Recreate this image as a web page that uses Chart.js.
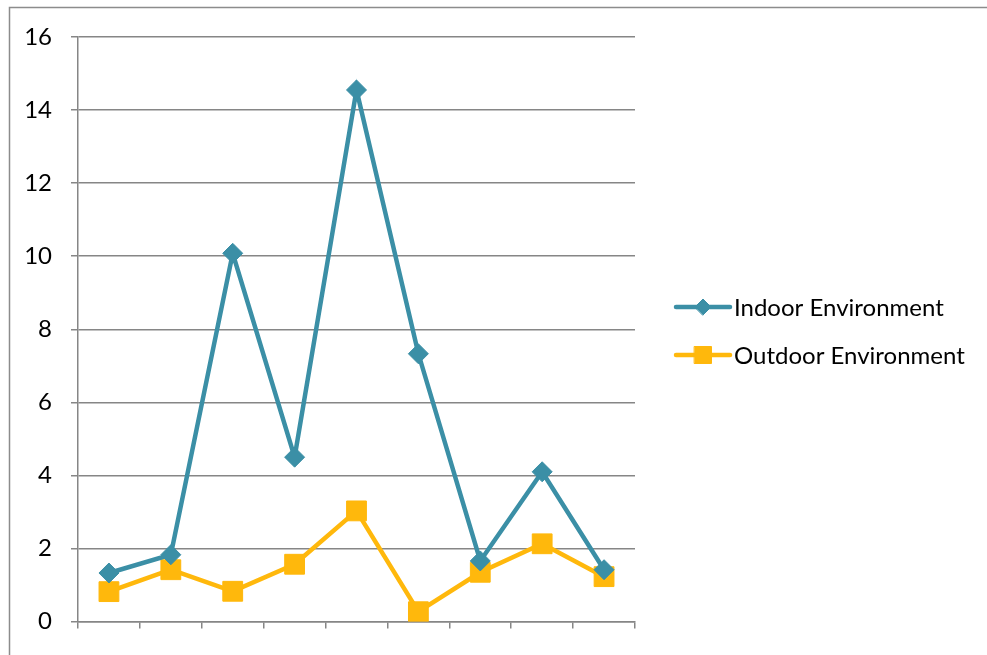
<!DOCTYPE html>
<html>
<head>
<meta charset="utf-8">
<script src="https://cdn.jsdelivr.net/npm/chart.js@4.4.1/dist/chart.umd.min.js"></script>
<style>
  html, body { margin: 0; padding: 0; background: #fff; }
  #wrap { width: 987px; height: 655px; position: relative; }
</style>
</head>
<body>
<div id="wrap"><canvas id="chart"></canvas></div>
<script>
// nine samples, no category names shown on the axis
const categories = ["", "", "", "", "", "", "", "", ""];
const indoor = [1.33, 1.83, 10.08, 4.5, 14.55, 7.33, 1.66, 4.1, 1.42];
const outdoor = [0.82, 1.42, 0.83, 1.57, 3.03, 0.27, 1.35, 2.13, 1.23];
const yTicks = [0, 2, 4, 6, 8, 10, 12, 14, 16];

const TEAL = "#3b8fa6";
const GOLD = "#ffb80c";
const GRID = "#868686";
const FONT = "Lato, 'Open Sans', sans-serif";

// outer frame of the chart object
const framePlugin = {
  id: "frame",
  beforeDraw(chart) {
    const ctx = chart.ctx;
    ctx.save();
    ctx.strokeStyle = "#8c8c8c";
    ctx.lineWidth = 1.5;
    ctx.beginPath();
    ctx.moveTo(9.5, 700);
    ctx.lineTo(9.5, 7.5);
    ctx.lineTo(1000, 7.5);
    ctx.stroke();
    ctx.restore();
  }
};

// right-hand legend: line segment with its marker, then the name
const legendMarker = { rectRot: 8, rect: 12 };
const sideLegend = {
  id: "sideLegend",
  afterDraw(chart) {
    const ctx = chart.ctx;
    const x0 = 676, x1 = 730, ys = [307, 355];
    chart.data.datasets.forEach((ds, i) => {
      const y = ys[i];
      ctx.save();
      ctx.strokeStyle = ds.borderColor;
      ctx.lineWidth = 4.5;
      ctx.lineCap = "round";
      ctx.beginPath();
      ctx.moveTo(x0, y);
      ctx.lineTo(x1, y);
      ctx.stroke();
      ctx.fillStyle = ds.pointBackgroundColor;
      ctx.strokeStyle = ds.pointBorderColor;
      ctx.lineWidth = 1;
      Chart.helpers.drawPoint(ctx, {
        pointStyle: ds.pointStyle,
        rotation: 0,
        radius: legendMarker[ds.pointStyle],
        borderWidth: 1
      }, (x0 + x1) / 2, y);
      ctx.fillStyle = "#000";
      ctx.font = "24px " + FONT;
      ctx.textBaseline = "middle";
      ctx.textAlign = "left";
      ctx.fillText(ds.label, 734, y + 1);
      ctx.restore();
    });
  }
};

new Chart(document.getElementById("chart"), {
  type: "line",
  data: {
    labels: categories,
    datasets: [
      {
        label: "Indoor Environment",
        data: indoor,
        borderColor: TEAL,
        backgroundColor: TEAL,
        pointBackgroundColor: TEAL,
        pointBorderColor: TEAL,
        borderWidth: 4.5,
        pointStyle: "rectRot",
        pointRadius: 10,
        pointBorderWidth: 1,
        tension: 0
      },
      {
        label: "Outdoor Environment",
        data: outdoor,
        borderColor: GOLD,
        backgroundColor: GOLD,
        pointBackgroundColor: GOLD,
        pointBorderColor: GOLD,
        borderWidth: 4.5,
        pointStyle: "rect",
        pointRadius: 14,
        pointBorderWidth: 1,
        tension: 0
      }
    ]
  },
  options: {
    responsive: true,
    maintainAspectRatio: false,
    animation: false,
    layout: { padding: { top: 37, right: 352, bottom: 0, left: 0 } },
    plugins: {
      legend: { display: false },
      tooltip: { enabled: false }
    },
    scales: {
      x: {
        offset: true,
        grid: {
          offset: true,
          drawOnChartArea: false,
          color: GRID,
          tickLength: 7,
          lineWidth: 1.5
        },
        border: { color: GRID, width: 1.5 },
        ticks: { display: true, font: { size: 1 } },
        afterFit(scale) { scale.height = 31; }
      },
      y: {
        min: 0,
        max: 16,
        afterBuildTicks(scale) {
          scale.ticks = yTicks.map(v => ({ value: v }));
        },
        grid: {
          color: GRID,
          lineWidth: 1.5,
          tickLength: 7
        },
        border: { color: GRID, width: 1.5 },
        ticks: {
          color: "#000",
          padding: 19,
          font: { family: FONT, size: 24 }
        },
        afterFit(scale) { scale.width = 78; }
      }
    }
  },
  plugins: [framePlugin, sideLegend]
});
</script>
</body>
</html>
